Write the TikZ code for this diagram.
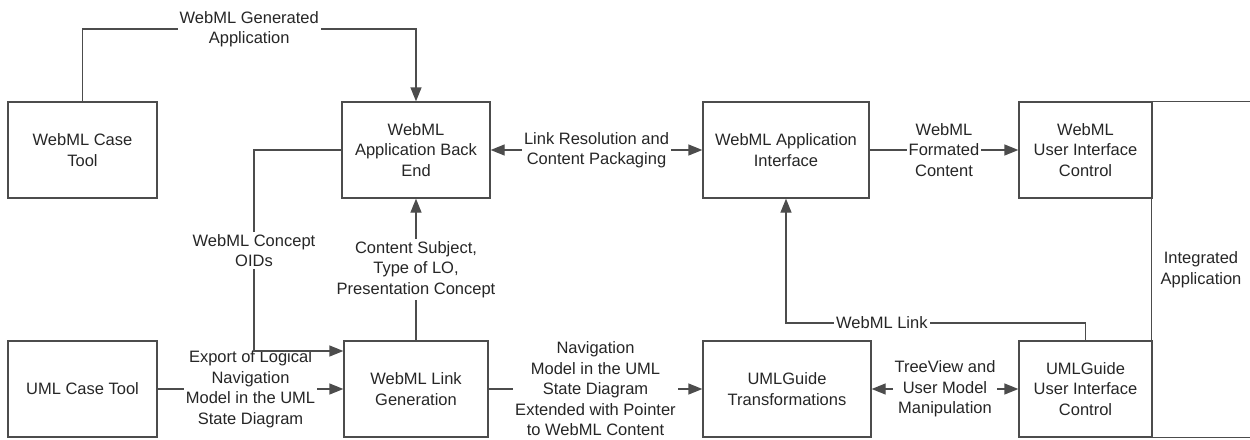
\documentclass[tikz,border=0pt]{standalone}
\usepackage{fontspec}
\setmainfont{Liberation Sans}
\usepackage{tikz}
\usetikzlibrary{arrows.meta,calc,positioning}

\begin{document}
\begin{tikzpicture}[x=1pt,y=-1pt,font=\fontsize{16.5}{20.5}\selectfont,
  >={Triangle[length=14pt,width=11pt]},
  box/.style={draw=black!70,line width=1.3pt,minimum height=96pt,align=center,text=black!85,inner sep=2pt},
  lbl/.style={fill=white,align=center,text=black!85,inner sep=2pt},
  conn/.style={draw=black!70,line width=1.3pt}]
\useasboundingbox (0,0) rectangle (1250,439);
\node[box,minimum width=149pt] (wcase) at (82.5,150) {WebML Case\\Tool};
\node[box,minimum width=148pt] (backend) at (416,150) {WebML\\Application Back\\End};
\node[box,minimum width=166pt] (appif) at (786,150) {WebML Application\\Interface};
\node[box,minimum width=133pt] (webui) at (1085.5,150) {WebML\\User Interface\\Control};
\node[box,minimum width=149pt] (umlcase) at (82.5,389) {UML Case Tool};
\node[box,minimum width=144pt] (linkgen) at (416,389) {WebML Link\\Generation};
\node[box,minimum width=168pt] (transf) at (787,389) {UMLGuide\\Transformations};
\node[box,minimum width=133pt] (umlui) at (1085.5,389) {UMLGuide\\User Interface\\Control};
\node[align=center,text=black!85,minimum width=98pt,minimum height=335pt] (intapp) at (1201,269.5) {Integrated\\Application};
\draw[conn] (intapp.north east) -- (intapp.north west) -- (intapp.south west) -- (intapp.south east);
\coordinate (genc) at (416,29);
\coordinate (oida) at (254,150);
\coordinate (oidb) at (254,351);
\coordinate (lnkc) at (786,323);
\draw[conn,->] (wcase.north) |- node[lbl,pos=0.75]{WebML Generated\\Application} (genc) -- (backend.north);
\draw[conn,<->] (backend.east) -- node[lbl]{Link Resolution and\\Content Packaging} (appif.west);
\draw[conn,->] (appif.east) -- node[lbl]{WebML\\Formated\\Content} (webui.west);
\draw[conn,->] (linkgen.north) -- node[lbl]{Content Subject,\\Type of LO,\\Presentation Concept} (backend.south);
\draw[conn,->] (umlcase.east) -- node[lbl]{Export of Logical\\Navigation\\Model in the UML\\State Diagram} (linkgen.west);
\draw[conn,->] (backend.west) -- (oida) -- node[lbl]{WebML Concept\\OIDs} (oidb) -- (oidb -| linkgen.west);
\draw[conn,->] (linkgen.east) -- node[lbl]{Navigation\\Model in the UML\\State Diagram\\Extended with Pointer\\to WebML Content} (transf.west);
\draw[conn,<->] (transf.east) -- node[lbl]{TreeView and\\User Model\\Manipulation} (umlui.west);
\draw[conn,->] (umlui.north) |- node[lbl,pos=0.84]{WebML Link} (lnkc) -- (appif.south);
\end{tikzpicture}
\end{document}
